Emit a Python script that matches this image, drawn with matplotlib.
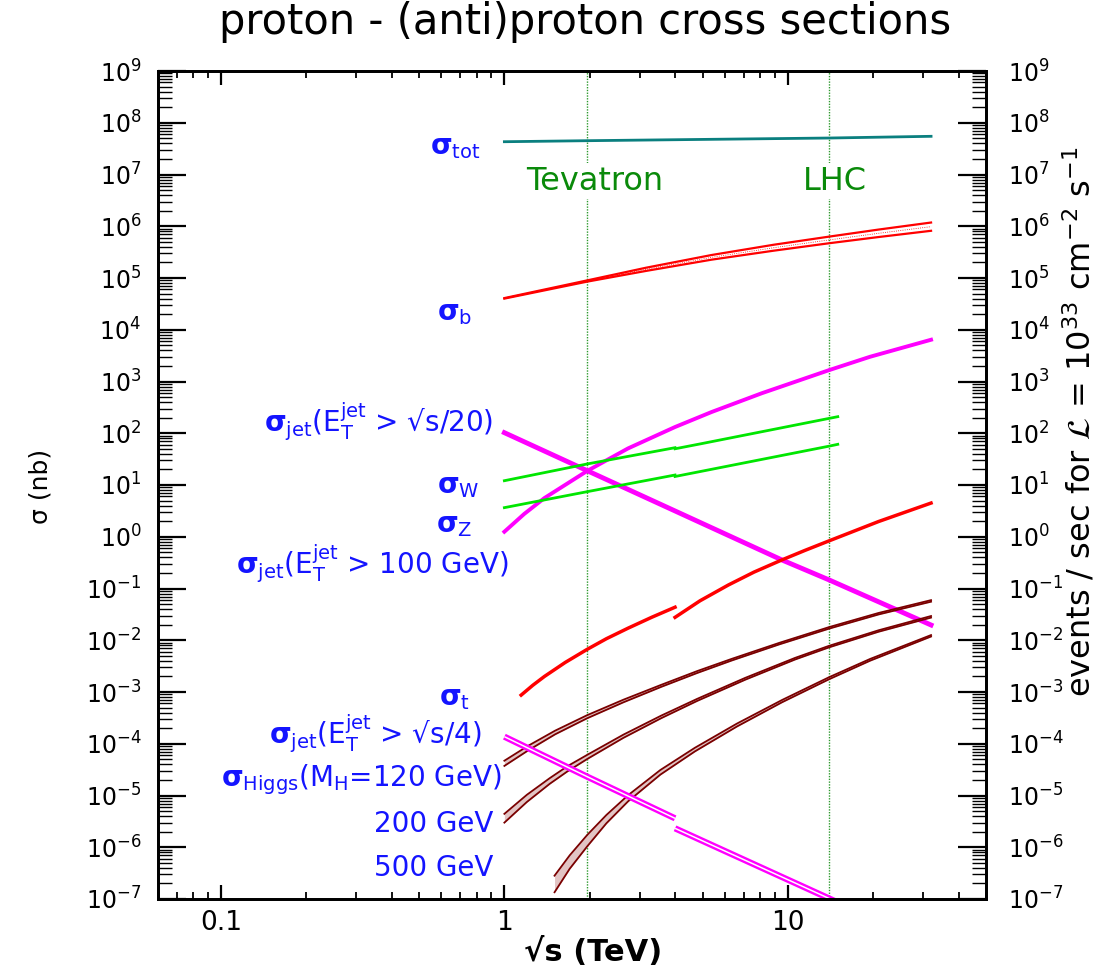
import numpy as np
import matplotlib
matplotlib.use("Agg")
import matplotlib.pyplot as plt
from matplotlib.ticker import LogLocator, NullFormatter, LogFormatterMathtext

# sqrt(s) in TeV, cross sections in nb
tot_x = [1.0, 1.96, 14.0, 32.0]
tot_y = [4.3e7, 4.5e7, 5.07e7, 5.47e7]

b_x = [1.0, 1.96, 3.16, 5.38, 8.91, 14.0, 20.9, 32.0]
b_hi = [4.09e4, 8.99e4, 1.58e5, 2.78e5, 4.39e5, 6.31e5, 8.63e5, 1.18e6]
b_lo = [4.00e4, 8.51e4, 1.37e5, 2.26e5, 3.37e5, 4.70e5, 6.19e5, 8.17e5]

jet100_x = [1.0, 1.175, 1.385, 1.96, 2.73, 4.0, 5.38, 8.09, 14.0, 19.5, 32.0]
jet100_y = [1.25, 2.76, 5.6, 18.7, 50.9, 132.0, 257.0, 593.0, 1663.0, 3006.0, 6412.0]

jet20_x = [1.0, 1.96, 9.53, 14.0, 32.0]
jet20_y = [102.6, 18.9, 0.356, 0.146, 0.0197]

w_ppbar_x = [1.0, 1.96, 4.0]
w_ppbar_y = [12.1, 25.5, 52.6]
w_pp_x = [4.0, 4.97, 14.0, 15.0]
w_pp_y = [50.1, 63.1, 194.0, 209.0]

z_ppbar_x = [1.0, 1.96, 4.0]
z_ppbar_y = [3.65, 7.43, 15.6]
z_pp_x = [4.0, 14.0, 15.0]
z_pp_y = [14.6, 56.4, 61.1]

top_ppbar_x = [1.146, 1.26, 1.385, 1.64, 1.96, 2.29, 2.73, 3.31, 4.0]
top_ppbar_y = [8.71e-4, 1.35e-3, 2.0e-3, 3.73e-3, 6.68e-3, 1.07e-2, 1.71e-2, 2.78e-2, 4.35e-2]
top_pp_x = [4.0, 4.9, 6.17, 7.59, 9.53, 11.5, 14.0, 20.9, 32.0]
top_pp_y = [2.77e-2, 5.79e-2, 0.117, 0.207, 0.357, 0.546, 0.836, 1.97, 4.48]

jet4_ppbar_x = [1.0, 1.96, 4.0]
jet4_ppbar_y = [1.37e-4, 2.31e-5, 3.62e-6]
jet4_pp_x = [4.0, 14.0, 32.0]
jet4_pp_y = [2.32e-6, 1.02e-7, 1.29e-8]

h120_x = [1.0, 1.21, 1.51, 1.96, 2.63, 3.58, 4.79, 6.34, 9.33, 14.0, 20.9, 32.0]
h120_hi = [4.70e-5, 9.06e-5, 1.79e-4, 3.57e-4, 7.10e-4, 1.38e-3,
           2.54e-3, 4.37e-3, 8.91e-3, 1.80e-2, 3.37e-2, 5.96e-2]
h120_lo = [3.73e-5, 7.36e-5, 1.52e-4, 3.11e-4, 6.32e-4, 1.26e-3,
           2.33e-3, 4.06e-3, 8.32e-3, 1.68e-2, 3.15e-2, 5.56e-2]

h200_x = [1.0, 1.20, 1.445, 1.67, 1.96, 2.63, 3.58, 4.79, 7.08, 10.6, 14.0, 20.9, 32.0]
h200_hi = [4.42e-6, 1.03e-5, 2.16e-5, 3.69e-5, 6.10e-5, 1.50e-4, 3.51e-4,
           7.38e-4, 1.88e-3, 4.56e-3, 7.83e-3, 1.56e-2, 2.94e-2]
h200_lo = [2.99e-6, 7.48e-6, 1.68e-5, 2.93e-5, 5.07e-5, 1.30e-4, 3.13e-4,
           6.73e-4, 1.73e-3, 4.24e-3, 7.31e-3, 1.46e-2, 2.74e-2]

h500_x = [1.503, 1.70, 1.96, 2.29, 2.73, 3.55, 4.70, 6.61, 9.55, 14.0, 19.5, 32.0]
h500_hi = [2.82e-7, 6.98e-7, 1.73e-6, 4.20e-6, 1.01e-5, 3.11e-5,
           8.36e-5, 2.45e-4, 7.03e-4, 1.94e-3, 4.35e-3, 1.26e-2]
h500_lo = [1.35e-7, 3.84e-7, 1.04e-6, 2.90e-6, 7.69e-6, 2.53e-5,
           7.11e-5, 2.15e-4, 6.35e-4, 1.77e-3, 4.02e-3, 1.18e-2]

tevatron = 1.96
lhc = 14.0

TEAL = "#0a7f7f"
RED = "#ff0000"
MAG = "#ff00ff"
GRN = "#00e600"
BRN = "#7a0000"
LBL = "#1414ff"

fig = plt.figure(figsize=(11.11, 9.67), dpi=100)
ax = fig.add_axes([158 / 1111, 68 / 967, 828 / 1111, 828 / 967])
ax.set_xscale("log")
ax.set_yscale("log")
ax.set_xlim(0.06, 50)
ax.set_ylim(1e-7, 1e9)

for xv in (tevatron, lhc):
    ax.axvline(xv, color="#2e9a2e", ls=(0, (1, 1)), lw=1.0, zorder=1)

ax.plot(tot_x, tot_y, color=TEAL, lw=2)

ax.plot(b_x, b_hi, color=RED, lw=1.6)
ax.plot(b_x, b_lo, color=RED, lw=1.6)
ax.plot(b_x, np.sqrt(np.array(b_hi) * np.array(b_lo)), color=RED, lw=0.6, ls=":")

ax.plot(jet100_x, jet100_y, color=MAG, lw=2.8)
ax.plot(jet20_x, jet20_y, color=MAG, lw=3.5)

ax.plot(w_ppbar_x, w_ppbar_y, color=GRN, lw=2)
ax.plot(w_pp_x, w_pp_y, color=GRN, lw=2)
ax.plot(z_ppbar_x, z_ppbar_y, color=GRN, lw=2)
ax.plot(z_pp_x, z_pp_y, color=GRN, lw=2)

ax.plot(top_ppbar_x, top_ppbar_y, color=RED, lw=2.5)
ax.plot(top_pp_x, top_pp_y, color=RED, lw=2.5)

# Higgs bands
for hx, hhi, hlo in ((h120_x, h120_hi, h120_lo),
                     (h200_x, h200_hi, h200_lo),
                     (h500_x, h500_hi, h500_lo)):
    ax.fill_between(hx, hlo, hhi, color="#e2c4c4", lw=0)
    ax.plot(hx, hhi, color=BRN, lw=1.3)
    ax.plot(hx, hlo, color=BRN, lw=1.3)

# jet rate with E_T > sqrt(s)/4, drawn as a double line
for jx, jy in ((jet4_ppbar_x, jet4_ppbar_y), (jet4_pp_x, jet4_pp_y)):
    ax.plot(jx, jy, color=MAG, lw=4.5, solid_capstyle="butt")
    ax.plot(jx, jy, color="white", lw=1.1, solid_capstyle="butt")

# collider labels
for txt, fx in (("Tevatron", 0.528), ("LHC", 0.817)):
    ax.text(fx, 0.867, txt, transform=ax.transAxes, color="#0a8a0a",
            fontsize=23, ha="center", va="center",
            bbox=dict(facecolor="white", edgecolor="none", pad=2))

# curve labels
labels = [
    (r"$\mathbf{\sigma}_{\rm tot}$", 0.390, 0.908),
    (r"$\mathbf{\sigma}_{\rm b}$", 0.379, 0.708),
    (r"$\mathbf{\sigma}_{\rm jet}$(E$_{\rm T}^{\rm jet}$ > √s/20)", 0.405, 0.576),
    (r"$\mathbf{\sigma}_{\rm W}$", 0.388, 0.499),
    (r"$\mathbf{\sigma}_{\rm Z}$", 0.380, 0.452),
    (r"$\mathbf{\sigma}_{\rm jet}$(E$_{\rm T}^{\rm jet}$ > 100 GeV)", 0.423, 0.405),
    (r"$\mathbf{\sigma}_{\rm t}$", 0.377, 0.243),
    (r"$\mathbf{\sigma}_{\rm jet}$(E$_{\rm T}^{\rm jet}$ > √s/4)", 0.391, 0.200),
    (r"$\mathbf{\sigma}_{\rm Higgs}$(M$_{\rm H}$=120 GeV)", 0.415, 0.144),
    ("200 GeV", 0.405, 0.090),
    ("500 GeV", 0.405, 0.038),
]
for txt, fx, fy in labels:
    ax.text(fx, fy, txt, transform=ax.transAxes, color=LBL, fontsize=20,
            ha="right", va="center")

# axes styling
for sp in ax.spines.values():
    sp.set_linewidth(2)

ax.set_xticks([0.1, 1, 10])
ax.set_xticklabels(["0.1", "1", "10"])
ax.xaxis.set_minor_locator(LogLocator(base=10, subs=np.arange(2, 10), numticks=50))
ax.xaxis.set_minor_formatter(NullFormatter())
ax.yaxis.set_major_locator(LogLocator(base=10, numticks=50))
ax.yaxis.set_minor_locator(LogLocator(base=10, subs=np.arange(2, 10), numticks=200))
ax.yaxis.set_major_formatter(LogFormatterMathtext())
ax.yaxis.set_minor_formatter(NullFormatter())

ax.tick_params(axis="x", which="major", direction="in", top=True, length=10,
               width=1.6, labelsize=19, pad=8)
ax.tick_params(axis="x", which="minor", direction="in", top=True, length=5, width=1.3)
ax.tick_params(axis="y", which="major", direction="in", length=20, width=1.6,
               labelsize=17, pad=12)
ax.tick_params(axis="y", which="minor", direction="in", length=10, width=1.0)

ax2 = ax.twinx()
ax2.set_yscale("log")
ax2.set_ylim(ax.get_ylim())
ax2.yaxis.set_major_locator(LogLocator(base=10, numticks=50))
ax2.yaxis.set_minor_locator(LogLocator(base=10, subs=np.arange(2, 10), numticks=200))
ax2.yaxis.set_major_formatter(LogFormatterMathtext())
ax2.yaxis.set_minor_formatter(NullFormatter())
ax2.tick_params(axis="y", which="major", direction="in", length=20, width=1.6,
                labelsize=17, pad=16)
ax2.tick_params(axis="y", which="minor", direction="in", length=10, width=1.0)
for sp in ax2.spines.values():
    sp.set_linewidth(2)

ax.set_xlabel("√s (TeV)", fontsize=22, fontweight="bold")
ax.xaxis.set_label_coords(0.525, -0.046)
ax.set_ylabel("σ (nb)", fontsize=18)
ax.yaxis.set_label_coords(-0.128, 0.498)

ax2.set_ylabel(r"events / sec for $\mathcal{L}$ = 10$^{33}$ cm$^{-2}$ s$^{-1}$",
               fontsize=23)
ax2.yaxis.set_label_coords(1.092, 0.576)

fig.text(585 / 1111, 1 - 22 / 967, "proton - (anti)proton cross sections",
         ha="center", va="center", fontsize=30)

fig.savefig("out.png", dpi=100)
